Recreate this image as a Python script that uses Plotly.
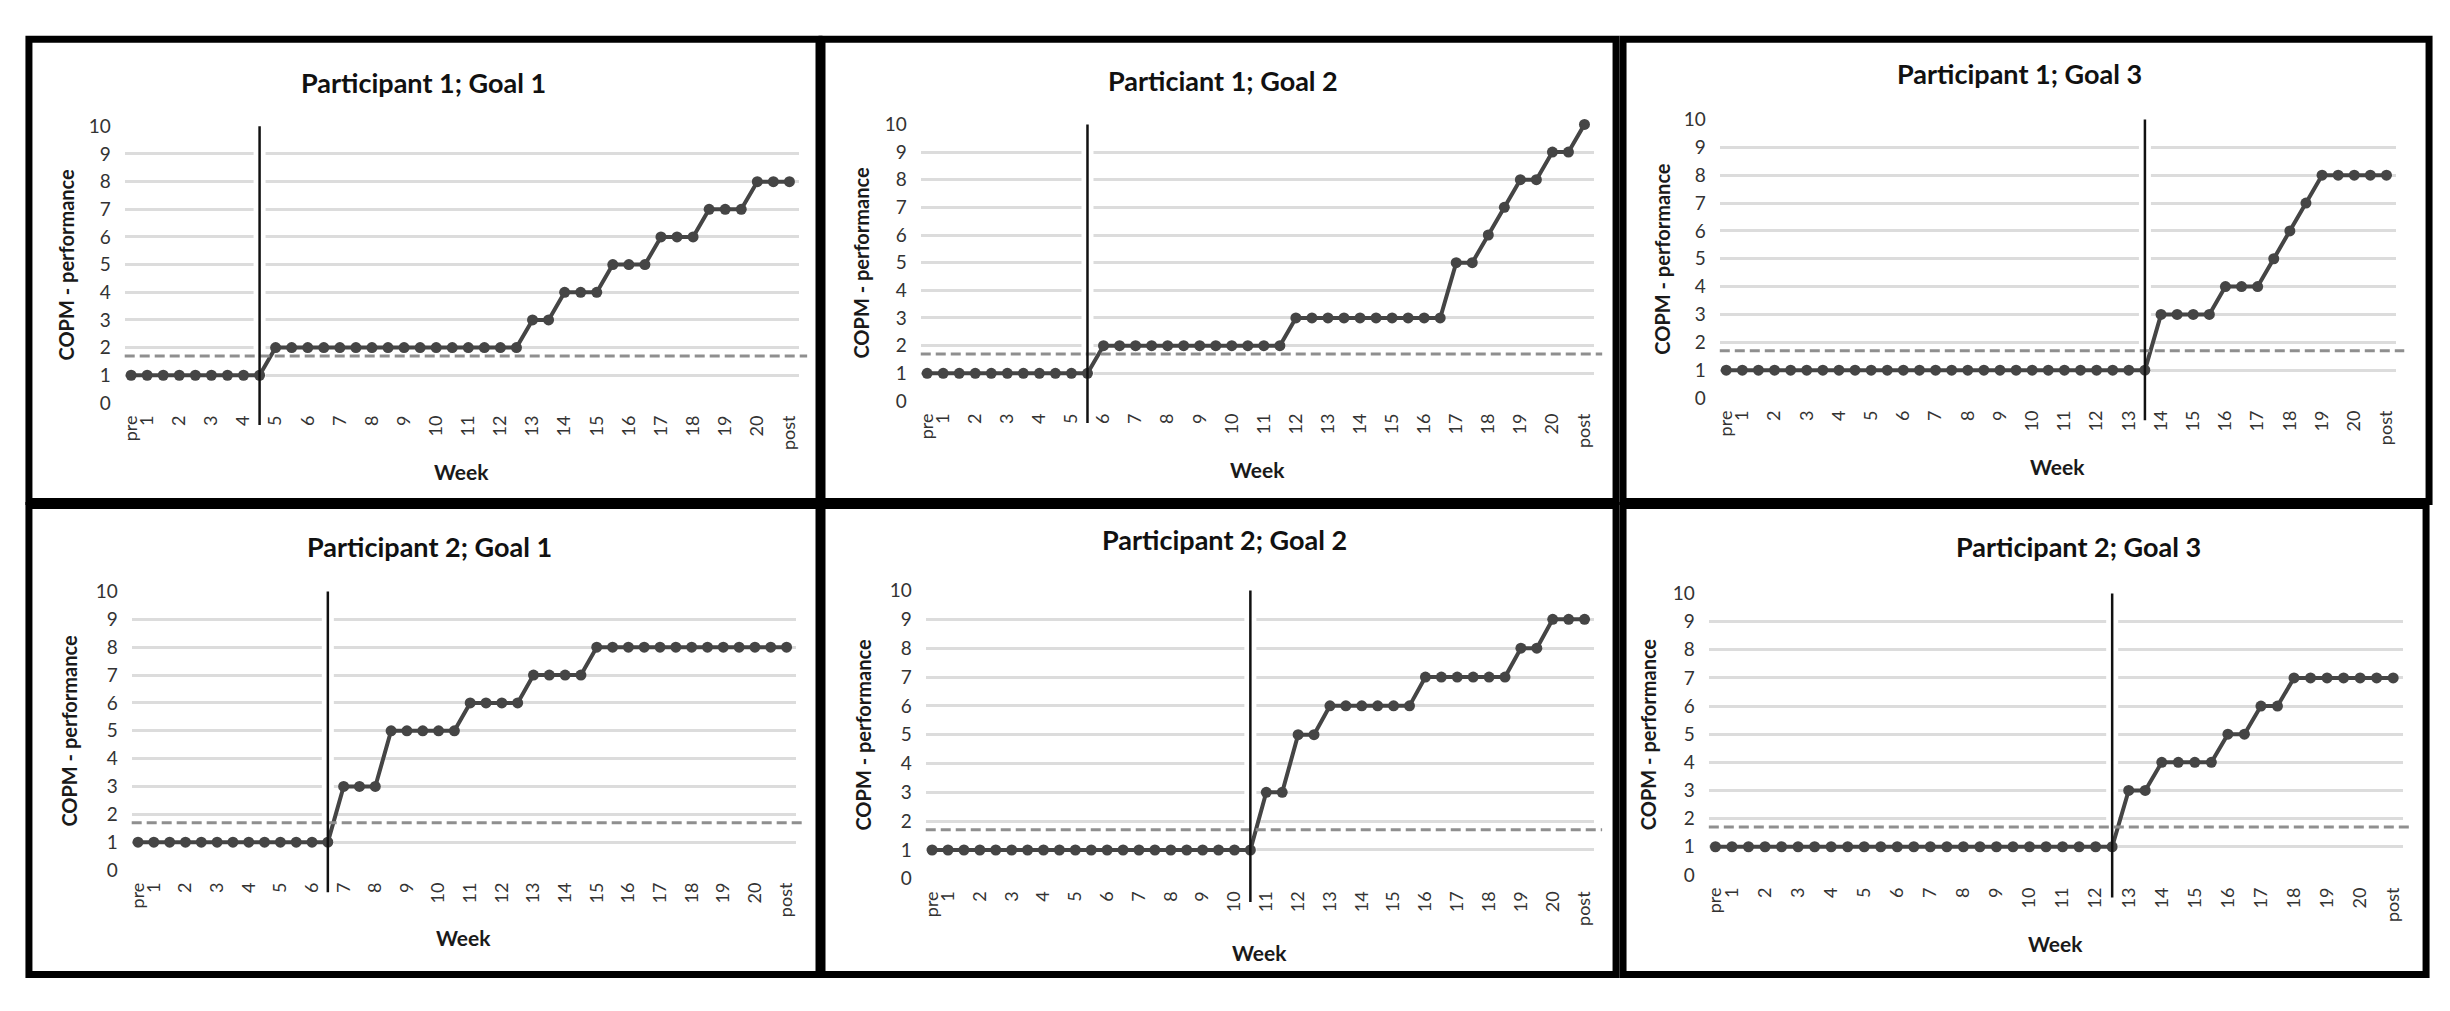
import plotly.graph_objects as go

# ---------------- data ----------------
week_labels = ["pre", "1", "", "2", "", "3", "", "4", "", "5", "", "6", "", "7", "", "8", "", "9", "",
               "10", "", "11", "", "12", "", "13", "", "14", "", "15", "", "16", "", "17", "", "18", "",
               "19", "", "20", "", "post"]
sessions = list(range(len(week_labels)))

panel_titles = ["Participant 1; Goal 1", "Particiant 1; Goal 2", "Participant 1; Goal 3",
                "Participant 2; Goal 1", "Participant 2; Goal 2", "Participant 2; Goal 3"]

p1_goal1 = [1, 1, 1, 1, 1, 1, 1, 1, 1,
            2, 2, 2, 2, 2, 2, 2, 2, 2, 2, 2, 2, 2, 2, 2, 2,
            3, 3, 4, 4, 4, 5, 5, 5, 6, 6, 6, 7, 7, 7, 8, 8, 8]
p1_goal2 = [1, 1, 1, 1, 1, 1, 1, 1, 1, 1, 1,
            2, 2, 2, 2, 2, 2, 2, 2, 2, 2, 2, 2,
            3, 3, 3, 3, 3, 3, 3, 3, 3, 3,
            5, 5, 6, 7, 8, 8, 9, 9, 10]
p1_goal3 = [1, 1, 1, 1, 1, 1, 1, 1, 1, 1, 1, 1, 1, 1, 1, 1, 1, 1, 1, 1, 1, 1, 1, 1, 1, 1, 1,
            3, 3, 3, 3, 4, 4, 4, 5, 6, 7, 8, 8, 8, 8, 8]
p2_goal1 = [1, 1, 1, 1, 1, 1, 1, 1, 1, 1, 1, 1, 1,
            3, 3, 3, 5, 5, 5, 5, 5, 6, 6, 6, 6, 7, 7, 7, 7,
            8, 8, 8, 8, 8, 8, 8, 8, 8, 8, 8, 8, 8]
p2_goal2 = [1, 1, 1, 1, 1, 1, 1, 1, 1, 1, 1, 1, 1, 1, 1, 1, 1, 1, 1, 1, 1,
            3, 3, 5, 5, 6, 6, 6, 6, 6, 6, 7, 7, 7, 7, 7, 7, 8, 8, 9, 9, 9]
p2_goal3 = [1, 1, 1, 1, 1, 1, 1, 1, 1, 1, 1, 1, 1, 1, 1, 1, 1, 1, 1, 1, 1, 1, 1, 1, 1,
            3, 3, 4, 4, 4, 4, 5, 5, 6, 6, 7, 7, 7, 7, 7, 7, 7]
panel_values = [p1_goal1, p1_goal2, p1_goal3, p2_goal1, p2_goal2, p2_goal3]

# session index where the phase-change line is drawn
phase_change_session = [8, 10, 26, 12, 20, 24]
# dashed reference level
reference_level = [1.7, 1.7, 1.7, 1.7, 1.7, 1.7]

y_ticks = [0, 1, 2, 3, 4, 5, 6, 7, 8, 9, 10]

# ---------------- layout (pixels) ----------------
W, H = 2450, 1011
# plot areas: (x0, x1, ytop, ybottom)
plot_px = [(119, 795, 117, 400), (917, 1592, 115, 398), (1718, 2396, 110, 395),
           (126, 792, 593, 878), (922, 1592, 592, 887), (1707, 2403, 595, 883)]
title_px = [(419, 72), (1220, 70), (2018, 63), (425, 547), (1221, 540), (2078, 547)]
ytitle_px = [60, 857, 1660, 63, 859, 1646]
week_py = [470, 468, 465, 947, 962, 953]
frames_px = [(23, 28, 815, 501), (818, 28, 1614, 501), (1621, 28, 2429, 501),
             (23, 505, 815, 985), (818, 505, 1614, 985), (1621, 505, 2426, 985)]

FONT = "Lato"
LINE_C = "#454545"
GRID_C = "#DCDCDC"
TICK_C = "#333333"

fig = go.Figure()
shapes = []
annotations = []
layout_axes = {}

for i in range(6):
    n = "" if i == 0 else str(i + 1)
    xname, yname = "x" + n, "y" + n
    x0, x1, yt, yb = plot_px[i]
    pc = phase_change_session[i]

    # white gap in the gridlines around the phase line (drawn above gridlines, below data)
    fig.add_trace(go.Scatter(
        x=[pc, pc], y=[y_ticks[0], y_ticks[-1]], mode="lines",
        line=dict(color="white", width=12), xaxis=xname, yaxis=yname,
        showlegend=False, hoverinfo="skip", cliponaxis=False))

    fig.add_trace(go.Scatter(
        x=sessions, y=panel_values[i], mode="lines+markers",
        line=dict(color=LINE_C, width=4),
        marker=dict(size=11, color=LINE_C), cliponaxis=False,
        xaxis=xname, yaxis=yname, showlegend=False, hoverinfo="skip"))

    layout_axes["xaxis" + n] = dict(
        domain=[x0 / W, x1 / W], anchor=yname, range=[-0.4, 41.6],
        tickmode="array", tickvals=sessions, ticktext=week_labels, tickangle=-90,
        tickfont=dict(family=FONT, size=18, color=TICK_C),
        showgrid=False, zeroline=False, showline=False, ticks="",
        ticklabelstandoff=8, fixedrange=True)
    layout_axes["yaxis" + n] = dict(
        domain=[1 - yb / H, 1 - yt / H], anchor=xname, range=[0, 10],
        tickmode="array", tickvals=y_ticks,
        tickfont=dict(family=FONT, size=19, color=TICK_C),
        showgrid=True, gridcolor=GRID_C, gridwidth=2.5, zeroline=False,
        showline=False, ticks="", ticklabelstandoff=13, fixedrange=True)

    # dashed reference level
    shapes.append(dict(type="line", xref=xname + " domain", yref=yname,
                       x0=0, x1=1.012, y0=reference_level[i], y1=reference_level[i],
                       layer="above", line=dict(color="#8f8f8f", width=3, dash="10px,5px")))
    # phase-change line
    shapes.append(dict(type="line", xref=xname, yref=yname + " domain",
                       x0=pc, x1=pc, y0=-0.08, y1=1, layer="above",
                       line=dict(color="#111111", width=2.5)))

    # frame
    fx0, fy0, fx1, fy1 = frames_px[i]
    shapes.append(dict(type="rect", xref="paper", yref="paper",
                       x0=fx0 / W, x1=fx1 / W, y0=1 - fy1 / H, y1=1 - fy0 / H,
                       line=dict(color="black", width=7), fillcolor="rgba(0,0,0,0)",
                       layer="above"))

    tx, ty = title_px[i]
    annotations.append(dict(text="<b>" + panel_titles[i] + "</b>", xref="paper", yref="paper",
                            x=tx / W, y=1 - ty / H, xanchor="center", yanchor="middle",
                            showarrow=False, font=dict(family=FONT, size=27, color="#111111")))
    annotations.append(dict(text="<b>COPM - performance</b>", xref="paper", yref="paper",
                            x=ytitle_px[i] / W, y=1 - (yt + yb) / 2 / H, textangle=-90,
                            xanchor="center", yanchor="middle", showarrow=False,
                            font=dict(family=FONT, size=20, color="#1a1a1a")))
    annotations.append(dict(text="<b>Week</b>", xref="paper", yref="paper",
                            x=(x0 + x1) / 2 / W, y=1 - week_py[i] / H,
                            xanchor="center", yanchor="middle", showarrow=False,
                            font=dict(family=FONT, size=21, color="#1a1a1a")))

fig.update_layout(
    width=W, height=H, margin=dict(l=0, r=0, t=0, b=0),
    paper_bgcolor="white", plot_bgcolor="white",
    shapes=shapes, annotations=annotations, **layout_axes)

fig.write_html("out.html", config={"displayModeBar": False},
               post_script="document.body.style.margin='0';document.body.style.overflow='hidden';")
